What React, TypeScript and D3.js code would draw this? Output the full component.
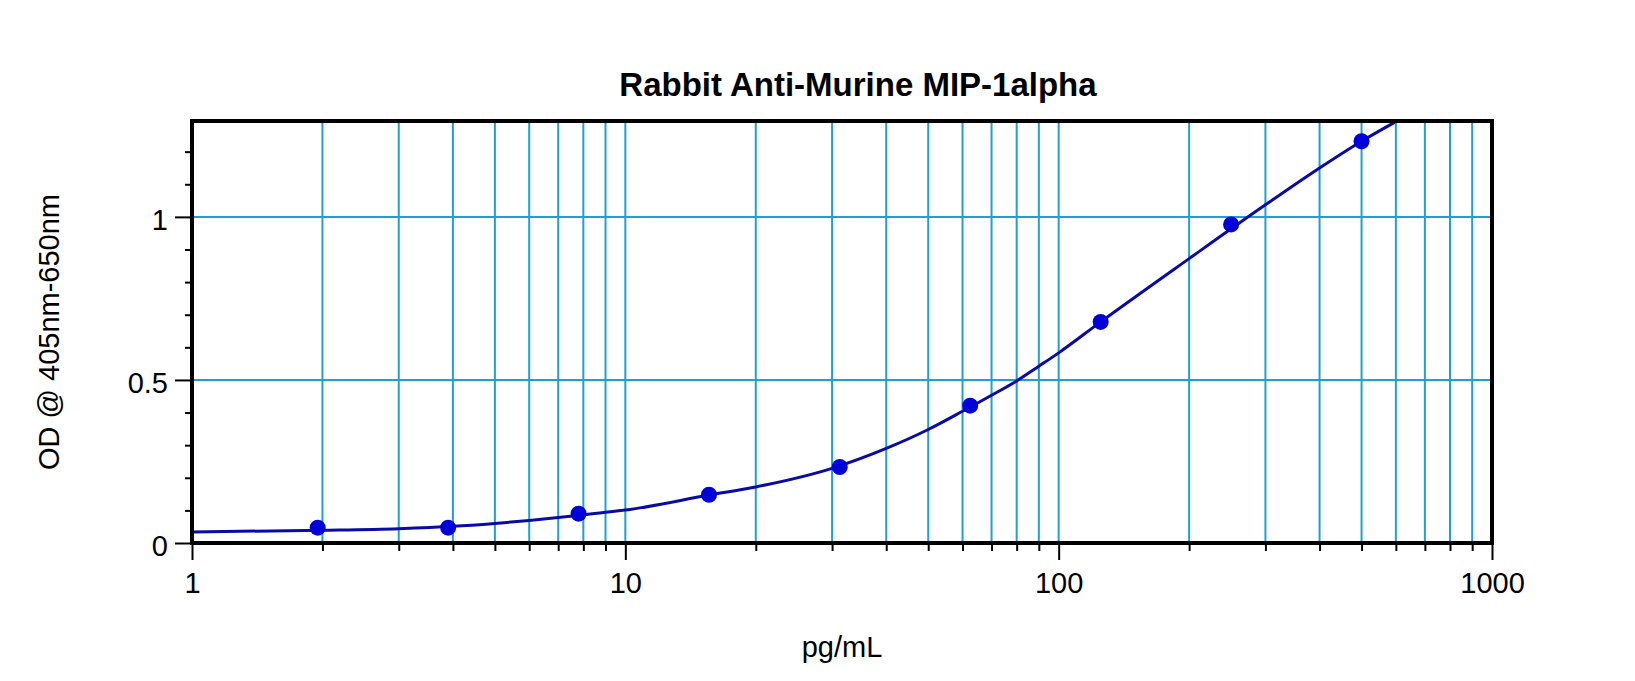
import { useEffect, useRef } from "react";
import * as d3 from "d3";

// standard curve (pg/mL vs OD)
const curveX = [1, 2, 3, 4, 5, 6, 7, 8, 10, 15.6, 20, 30, 40, 50, 60, 70, 80, 90, 100, 125, 200, 300, 400, 500, 596];
const curveY = [0.034, 0.039, 0.044, 0.051, 0.06, 0.069, 0.078, 0.087, 0.101, 0.147, 0.172, 0.229, 0.29, 0.348, 0.404, 0.453, 0.497, 0.542, 0.583, 0.678, 0.872, 1.037, 1.15, 1.232, 1.29];

const pointX = [1.95, 3.9, 7.8, 15.6, 31.25, 62.5, 125, 250, 500];
const pointY = [0.047, 0.047, 0.09, 0.148, 0.233, 0.421, 0.678, 0.977, 1.232];

const xMajor = [1, 10, 100, 1000];
const xMinor = [2, 3, 4, 5, 6, 7, 8, 9, 20, 30, 40, 50, 60, 70, 80, 90, 200, 300, 400, 500, 600, 700, 800, 900];
const yMajor = [0, 0.5, 1];
const yMinor = [0.1, 0.2, 0.3, 0.4, 0.6, 0.7, 0.8, 0.9, 1.1, 1.2];

const title = "Rabbit Anti-Murine MIP-1alpha";
const xTitle = "pg/mL";
const yTitle = "OD @ 405nm-650nm";

const W = 1635, H = 681;
const GRID = "#1ea0d6";

const App = () => {
  const svgRef = useRef<SVGSVGElement>(null);

  useEffect(() => {
    if (!svgRef.current) return;
    const svg = d3.select(svgRef.current);
    svg.selectAll("*").remove();

    const m = { left: 192, right: 1492, top: 121, bottom: 543 };
    const x = d3.scaleLog().domain([1, 1000]).range([m.left, m.right]);
    const y = d3.scaleLinear().domain([0, 1.294]).range([m.bottom, m.top]);
    const font = "'Liberation Sans', Arial, sans-serif";

    svg.append("rect").attr("width", W).attr("height", H).attr("fill", "#fff");

    svg.append("defs").append("clipPath").attr("id", "plot")
      .append("rect")
      .attr("x", m.left).attr("y", m.top)
      .attr("width", m.right - m.left).attr("height", m.bottom - m.top);

    // grid
    svg.append("g").selectAll("line")
      .data([...xMinor, 10, 100])
      .join("line")
      .attr("x1", (d) => x(d)).attr("x2", (d) => x(d))
      .attr("y1", m.top).attr("y2", m.bottom)
      .attr("stroke", GRID).attr("stroke-width", 2);
    svg.append("g").selectAll("line")
      .data([0.5, 1])
      .join("line")
      .attr("x1", m.left).attr("x2", m.right)
      .attr("y1", (d) => y(d)).attr("y2", (d) => y(d))
      .attr("stroke", GRID).attr("stroke-width", 2);

    // axes ticks
    const styleAxis = (g: d3.Selection<SVGGElement, unknown, null, undefined>) => {
      g.select(".domain").remove();
      g.selectAll(".tick line").attr("stroke", "#000").attr("stroke-width", 2);
      g.selectAll(".tick text")
        .attr("fill", "#000")
        .style("font-family", font)
        .style("font-size", "29px");
    };

    svg.append("g")
      .attr("transform", `translate(0,${m.bottom})`)
      .call(d3.axisBottom(x).tickValues(xMinor).tickSize(8).tickFormat(() => ""))
      .call(styleAxis);
    svg.append("g")
      .attr("transform", `translate(0,${m.bottom})`)
      .call(d3.axisBottom(x).tickValues(xMajor).tickSize(17).tickPadding(12).tickFormat(d3.format("d")))
      .call(styleAxis);

    svg.append("g")
      .attr("transform", `translate(${m.left},0)`)
      .call(d3.axisLeft(y).tickValues(yMinor).tickSize(7).tickFormat(() => ""))
      .call(styleAxis);
    svg.append("g")
      .attr("transform", `translate(${m.left},0)`)
      .call(d3.axisLeft(y).tickValues(yMajor).tickSize(17).tickPadding(7).tickFormat((d) => String(d)))
      .call(styleAxis)
      .selectAll(".tick text").attr("dy", "0.42em");

    // fitted curve
    const line = d3.line<number>()
      .x((_, i) => x(curveX[i]))
      .y((d) => y(d))
      .curve(d3.curveMonotoneX);
    svg.append("path")
      .datum(curveY)
      .attr("d", line)
      .attr("clip-path", "url(#plot)")
      .attr("fill", "none")
      .attr("stroke", "#0a0aa8")
      .attr("stroke-width", 3);

    svg.append("g").selectAll("circle")
      .data(pointY)
      .join("circle")
      .attr("cx", (_, i) => x(pointX[i]))
      .attr("cy", (d) => y(d))
      .attr("r", 8)
      .attr("fill", "#0000d8");

    // frame
    svg.append("rect")
      .attr("x", m.left).attr("y", m.top)
      .attr("width", m.right - m.left).attr("height", m.bottom - m.top)
      .attr("fill", "none").attr("stroke", "#000").attr("stroke-width", 4);

    // titles
    svg.append("text")
      .attr("x", 858).attr("y", 96)
      .attr("text-anchor", "middle")
      .style("font-family", font).style("font-size", "33px").style("font-weight", "bold")
      .text(title);
    svg.append("text")
      .attr("x", (m.left + m.right) / 2).attr("y", 657)
      .attr("text-anchor", "middle")
      .style("font-family", font).style("font-size", "29px")
      .text(xTitle);
    svg.append("text")
      .attr("transform", `translate(59,${(m.top + m.bottom) / 2}) rotate(-90)`)
      .attr("text-anchor", "middle")
      .style("font-family", font).style("font-size", "29px")
      .text(yTitle);
  }, []);

  return (
    <svg ref={svgRef} width={W} height={H} style={{ position: "absolute", left: 0, top: 0 }} />
  );
};

export default App;
